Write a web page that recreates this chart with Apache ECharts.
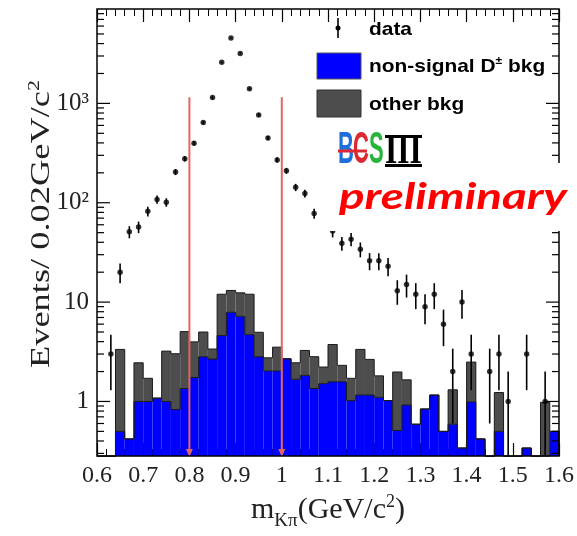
<!DOCTYPE html>
<html>
<head>
<meta charset="utf-8">
<script src="https://cdn.jsdelivr.net/npm/echarts@6/dist/echarts.min.js"></script>
<style>
  html, body { margin: 0; padding: 0; background: #ffffff; }
  #chart { width: 577px; height: 536px; }
</style>
</head>
<body>
<div id="chart"></div>
<script>
// m(Kpi) histogram, 0.02 GeV/c^2 bins from 0.6 to 1.6
const binCenters = [
  0.61, 0.63, 0.65, 0.67, 0.69, 0.71, 0.73, 0.75, 0.77, 0.79,
  0.81, 0.83, 0.85, 0.87, 0.89, 0.91, 0.93, 0.95, 0.97, 0.99,
  1.01, 1.03, 1.05, 1.07, 1.09, 1.11, 1.13, 1.15, 1.17, 1.19,
  1.21, 1.23, 1.25, 1.27, 1.29, 1.31, 1.33, 1.35, 1.37, 1.39,
  1.41, 1.43, 1.45, 1.47, 1.49, 1.51, 1.53, 1.55, 1.57, 1.59
];

// non-signal D+- background (blue, bottom of the stack)
const nonSignalD = [
  0, 0, 0.50, 0.42, 1.00, 1.00, 1.08, 1.00, 0.83, 1.35,
  1.74, 2.82, 2.67, 4.60, 7.90, 7.20, 4.70, 2.82, 2.03, 2.03,
  2.69, 1.67, 1.83, 1.35, 1.51, 1.58, 1.58, 1.02, 1.16, 1.16,
  1.10, 1.02, 0.51, 0.92, 0.59, 0.84, 1.16, 0.50, 0.59, 0.34,
  0.99, 0.42, 0, 0.50, 0, 0, 0.34, 0, 0, 0.50
];

// other background (dark grey, stacked on top)
const otherBkg = [
  0, 0, 2.84, 0, 1.45, 0.71, 0, 2.21, 2.19, 3.70,
  2.24, 2.18, 0.70, 7.40, 5.20, 5.20, 7.30, 2.15, 0.72, 1.49,
  0, 0.78, 1.43, 1.47, 0.71, 2.16, 0.73, 0.69, 2.18, 1.49,
  0.71, 0, 1.47, 0.73, 0, 0, 0, 0, 0.72, 0,
  1.50, 0, 0, 0.73, 0, 0, 0, 0, 0.98, 0
];

// observed events per bin and their errors
const dataCounts = [
  0, 3, 20, 51, 57, 82, 108, 101, 204, 277,
  397, 643, 1143, 2588, 4563, 3184, 1405, 766, 449, 270,
  210, 143, 124, 78, 62, 52, 39, 43, 34, 26,
  26, 23, 13, 15, 12, 9, 12, 6, 2, 10,
  3, 0, 2, 3, 1, 0, 3, 0, 1, 0
];
const dataErrors = [
  0, 1.7, 4.5, 7.1, 7.5, 9.1, 10.4, 10.0, 14.3, 16.6,
  19.9, 25.4, 33.8, 50.9, 67.5, 56.4, 37.5, 27.7, 21.2, 16.4,
  14.5, 12.0, 11.1, 8.8, 7.9, 7.2, 6.2, 6.6, 5.8, 5.1,
  5.1, 4.8, 3.6, 3.9, 3.5, 3.0, 3.5, 2.4, 1.4, 3.2,
  1.7, 0, 1.4, 1.7, 1.0, 0, 1.7, 0, 1.0, 0
];

// mass window edges marked by arrows
const cutEdges = [0.8, 1.0];

// y axis decade labels
const yMajorTicks = [1, 10, 100, 1000];
const yTickLabels = ['1', '10', '10\u00B2', '10\u00B3'];

const BIN_W = 0.02;
const X_MIN = 0.6, X_MAX = 1.6;
const Y_MIN = 0.2818, Y_MAX = 8913;
const ARROW_TOP = 1150;
const ARROW_COLOR = '#e1675f';
const BLUE = '#0000ff';
const GREY = '#4d4d4d';
const EDGE = '#1a1a1a';

// minor ticks of the log axis (2..9 in every decade)
const yMinorTicks = [];
for (let d = -1; d <= 3; d++) {
  for (let m = 2; m <= 9; m++) {
    const v = m * Math.pow(10, d);
    if (v > Y_MIN && v < Y_MAX) yMinorTicks.push(v);
  }
}

const lvl = v => (v > Y_MIN ? v : Y_MIN);
const totals = nonSignalD.map((b, i) => b + otherBkg[i]);

const chart = echarts.init(document.getElementById('chart'), null, { renderer: 'canvas' });

const serif = 'Liberation Serif';

function stepOutline(api, values, i, style) {
  const c = binCenters[i];
  const x0 = c - BIN_W / 2, x1 = c + BIN_W / 2;
  const cur = lvl(values[i]);
  const prev = i > 0 ? lvl(values[i - 1]) : Y_MIN;
  const pts = [api.coord([x0, prev]), api.coord([x0, cur]), api.coord([x1, cur])];
  if (i === values.length - 1) pts.push(api.coord([x1, Y_MIN]));
  return [{ type: 'polyline', shape: { points: pts }, style: style }];
}

const option = {
  animation: false,
  backgroundColor: '#ffffff',
  grid: { left: 97, top: 9, right: 16, bottom: 77, show: false },
  xAxis: [
    {
      type: 'value', position: 'bottom', min: X_MIN, max: X_MAX, interval: 0.1,
      axisLine: { show: false },
      axisTick: { show: true, inside: true, length: 13, lineStyle: { color: '#000', width: 1.2 } },
      minorTick: { show: true, splitNumber: 5, length: 7, lineStyle: { color: '#000', width: 1 } },
      splitLine: { show: false },
      axisLabel: { color: '#222', fontFamily: serif, fontSize: 24, margin: 8 },
      name: '{a|m}{s|K\u03C0}{a|(GeV/c}{p|2}{a|)}',
      nameLocation: 'middle', nameGap: 34,
      nameTextStyle: {
        rich: {
          a: { fontFamily: serif, fontSize: 30, color: '#222', lineHeight: 34, verticalAlign: 'middle' },
          s: { fontFamily: serif, fontSize: 19, color: '#222', verticalAlign: 'bottom', lineHeight: 34, padding: [0, 0, -4, 0] },
          p: { fontFamily: serif, fontSize: 18, color: '#222', verticalAlign: 'top', lineHeight: 34 }
        }
      }
    },
    {
      type: 'value', position: 'top', min: X_MIN, max: X_MAX, interval: 0.1,
      axisLine: { show: false },
      axisTick: { show: true, inside: true, length: 13, lineStyle: { color: '#000', width: 1.2 } },
      minorTick: { show: true, splitNumber: 5, length: 7, lineStyle: { color: '#000', width: 1 } },
      splitLine: { show: false },
      axisLabel: { show: false }
    }
  ],
  yAxis: [
    {
      type: 'log', logBase: 10, min: Y_MIN, max: Y_MAX, position: 'left',
      axisLine: { show: false }, axisTick: { show: false }, splitLine: { show: false },
      axisLabel: {
        color: '#222', fontFamily: serif, fontSize: 25, margin: 8,
        showMinLabel: false, showMaxLabel: false,
        formatter: v => {
          const k = yMajorTicks.findIndex(t => Math.abs(v - t) / t < 1e-6);
          return k >= 0 ? yTickLabels[k] : '';
        }
      }
    },
    {
      type: 'log', logBase: 10, min: Y_MIN, max: Y_MAX, position: 'right',
      axisLine: { show: false }, axisTick: { show: false }, splitLine: { show: false },
      axisLabel: { show: false }
    }
  ],
  series: [
    {
      // stacked histogram fills
      type: 'custom', name: 'stack', z: 2, silent: true,
      data: binCenters.map((c, i) => [c, nonSignalD[i], totals[i]]),
      encode: { x: 0, y: [1, 2] },
      renderItem: (params, api) => {
        const c = api.value(0), b = api.value(1), t = api.value(2);
        const x0 = c - BIN_W / 2, x1 = c + BIN_W / 2;
        const children = [];
        const base = api.coord([x0, Y_MIN]);
        const right = api.coord([x1, Y_MIN]);
        if (b > Y_MIN) {
          const top = api.coord([x0, b]);
          children.push({ type: 'rect', shape: { x: base[0], y: top[1], width: right[0] - base[0], height: base[1] - top[1] }, style: { fill: BLUE } });
        }
        if (t > b && t > Y_MIN) {
          const lo = api.coord([x0, lvl(b)]);
          const hi = api.coord([x0, t]);
          children.push({ type: 'rect', shape: { x: base[0], y: hi[1], width: right[0] - base[0], height: lo[1] - hi[1] }, style: { fill: GREY } });
        }
        return { type: 'group', children: children };
      }
    },
    {
      // step contours of both histograms
      type: 'custom', name: 'contours', z: 3, silent: true,
      data: binCenters.map((c, i) => [c, nonSignalD[i], totals[i]]),
      encode: { x: 0, y: [1, 2] },
      renderItem: (params, api) => {
        const i = params.dataIndex;
        const st = { stroke: EDGE, lineWidth: 1, fill: null };
        return { type: 'group', children: stepOutline(api, nonSignalD, i, st).concat(stepOutline(api, totals, i, st)) };
      }
    },
    {
      // mass window arrows
      type: 'custom', name: 'window', z: 5, silent: true,
      data: cutEdges.map(x => [x, ARROW_TOP]),
      encode: { x: 0, y: 1 },
      renderItem: (params, api) => {
        const top = api.coord([api.value(0), api.value(1)]);
        const bot = api.coord([api.value(0), Y_MIN]);
        return {
          type: 'group', children: [
            { type: 'line', shape: { x1: top[0], y1: top[1], x2: bot[0], y2: bot[1] - 5 }, style: { stroke: ARROW_COLOR, lineWidth: 2 } },
            { type: 'polygon', shape: { points: [[bot[0] - 3.5, bot[1] - 7], [bot[0] + 3.5, bot[1] - 7], [bot[0], bot[1] + 1]] }, style: { fill: ARROW_COLOR } }
          ]
        };
      }
    },
    {
      // statistical error bars of the data
      type: 'custom', name: 'errors', z: 4, silent: true,
      data: binCenters.map((c, i) => [c, dataCounts[i], dataErrors[i]]).filter(d => d[1] > 0),
      encode: { x: 0, y: 1 },
      renderItem: (params, api) => {
        const c = api.value(0), n = api.value(1), e = api.value(2);
        const hi = api.coord([c, n + e]);
        const lo = api.coord([c, lvl(n - e)]);
        return { type: 'line', shape: { x1: hi[0], y1: hi[1], x2: lo[0], y2: lo[1] }, style: { stroke: '#000', lineWidth: 1.6 } };
      }
    },
    {
      type: 'scatter', name: 'data', z: 4, silent: true,
      symbol: 'circle', symbolSize: 5.5,
      itemStyle: { color: '#000' },
      data: binCenters.map((c, i) => [c, dataCounts[i]]).filter(d => d[1] > 0)
    },
    {
      // frame and log-axis tick marks on both vertical edges
      type: 'custom', name: 'frame', z: 6, silent: true,
      data: yMajorTicks.map(v => [X_MIN, v, 1]).concat(yMinorTicks.map(v => [X_MIN, v, 0])),
      encode: { x: 0, y: 1 },
      renderItem: (params, api) => {
        const cs = params.coordSys;
        const p = api.coord([X_MIN, api.value(1)]);
        const len = api.value(2) ? 13 : 7;
        const children = [
          { type: 'line', shape: { x1: cs.x, y1: p[1], x2: cs.x + len, y2: p[1] }, style: { stroke: '#000', lineWidth: 1.2 } },
          { type: 'line', shape: { x1: cs.x + cs.width, y1: p[1], x2: cs.x + cs.width - len, y2: p[1] }, style: { stroke: '#000', lineWidth: 1.2 } }
        ];
        if (params.dataIndex === 0) {
          children.push({ type: 'rect', shape: { x: cs.x, y: cs.y, width: cs.width, height: cs.height }, style: { fill: null, stroke: '#000', lineWidth: 1.5 } });
        }
        return { type: 'group', children: children };
      }
    }
  ],
  graphic: [
    // y axis title
    {
      type: 'text', z: 50, x: 42, y: 224, rotation: Math.PI / 2, scaleX: 1.3,
      style: {
        text: '{a|Events/ 0.02GeV/c}{p|2}', x: 0, y: 0, align: 'center', verticalAlign: 'middle',
        rich: {
          a: { fontFamily: serif, fontSize: 28, fill: '#222', lineHeight: 32 },
          p: { fontFamily: serif, fontSize: 17, fill: '#222', verticalAlign: 'top', lineHeight: 32 }
        }
      }
    },

    // legend
    { type: 'line', z: 50, shape: { x1: 338, y1: 18, x2: 338, y2: 38 }, style: { stroke: '#000', lineWidth: 1.6 } },
    { type: 'circle', z: 50, shape: { cx: 338, cy: 28, r: 2.5 }, style: { fill: '#000' } },
    { type: 'text', z: 50, x: 369, y: 29.5, scaleX: 1.1, style: { text: 'data', x: 0, y: 0, fill: '#000', fontFamily: 'Liberation Sans', fontWeight: 'bold', fontSize: 19, verticalAlign: 'middle' } },
    { type: 'rect', z: 50, shape: { x: 317, y: 53, width: 44, height: 26 }, style: { fill: BLUE, stroke: '#555', lineWidth: 1 } },
    {
      type: 'text', z: 50, x: 369, y: 66.5, scaleX: 1.1,
      style: {
        text: '{a|non-signal D}{p|\u00B1}{a| bkg}', x: 0, y: 0, verticalAlign: 'middle',
        rich: {
          a: { fill: '#000', fontFamily: 'Liberation Sans', fontWeight: 'bold', fontSize: 19, lineHeight: 22 },
          p: { fill: '#000', fontFamily: 'Liberation Sans', fontWeight: 'bold', fontSize: 11, verticalAlign: 'top', lineHeight: 22 }
        }
      }
    },
    { type: 'rect', z: 50, shape: { x: 317, y: 90, width: 44, height: 27 }, style: { fill: GREY, stroke: '#333', lineWidth: 1 } },
    { type: 'text', z: 50, x: 369, y: 104.5, scaleX: 1.1, style: { text: 'other bkg', x: 0, y: 0, fill: '#000', fontFamily: 'Liberation Sans', fontWeight: 'bold', fontSize: 19, verticalAlign: 'middle' } },

    // white patch behind the "preliminary" stamp
    { type: 'rect', z: 60, shape: { x: 318, y: 163, width: 259, height: 68 }, style: { fill: '#ffffff' } },

    // BESIII logo
    { type: 'text', z: 61, x: 338, y: 151, scaleX: 0.5, style: { text: 'B', x: 0, y: 0, fill: '#1e6edc', fontFamily: 'Liberation Sans', fontWeight: 'bold', fontSize: 44, verticalAlign: 'middle' } },
    { type: 'text', z: 61, x: 353, y: 151, scaleX: 0.5, style: { text: 'C', x: 0, y: 0, fill: '#dc2832', fontFamily: 'Liberation Sans', fontWeight: 'bold', fontSize: 44, verticalAlign: 'middle' } },
    { type: 'line', z: 62, shape: { x1: 338, y1: 151, x2: 367, y2: 151 }, style: { stroke: '#dc2832', lineWidth: 3 } },
    { type: 'text', z: 61, x: 369, y: 151, scaleX: 0.5, style: { text: 'S', x: 0, y: 0, fill: '#28b43c', fontFamily: 'Liberation Sans', fontWeight: 'bold', fontSize: 44, verticalAlign: 'middle' } },
    { type: 'text', z: 61, x: 385, y: 152, scaleX: 0.75, style: { text: 'III', x: 0, y: 0, fill: '#000', fontFamily: serif, fontWeight: 'bold', fontSize: 42, verticalAlign: 'middle' } },
    { type: 'rect', z: 61, shape: { x: 385, y: 135, width: 37, height: 3 }, style: { fill: '#000' } },
    { type: 'rect', z: 61, shape: { x: 385, y: 164, width: 37, height: 3 }, style: { fill: '#000' } },

    // preliminary stamp
    { type: 'text', z: 61, x: 339, y: 197, scaleX: 1.32, style: { text: 'preliminary', x: 0, y: 0, fill: '#ff0000', fontFamily: 'Lato', fontWeight: 'bold', fontStyle: 'italic', fontSize: 36, verticalAlign: 'middle' } }
  ]
};

chart.setOption(option);
</script>
</body>
</html>
